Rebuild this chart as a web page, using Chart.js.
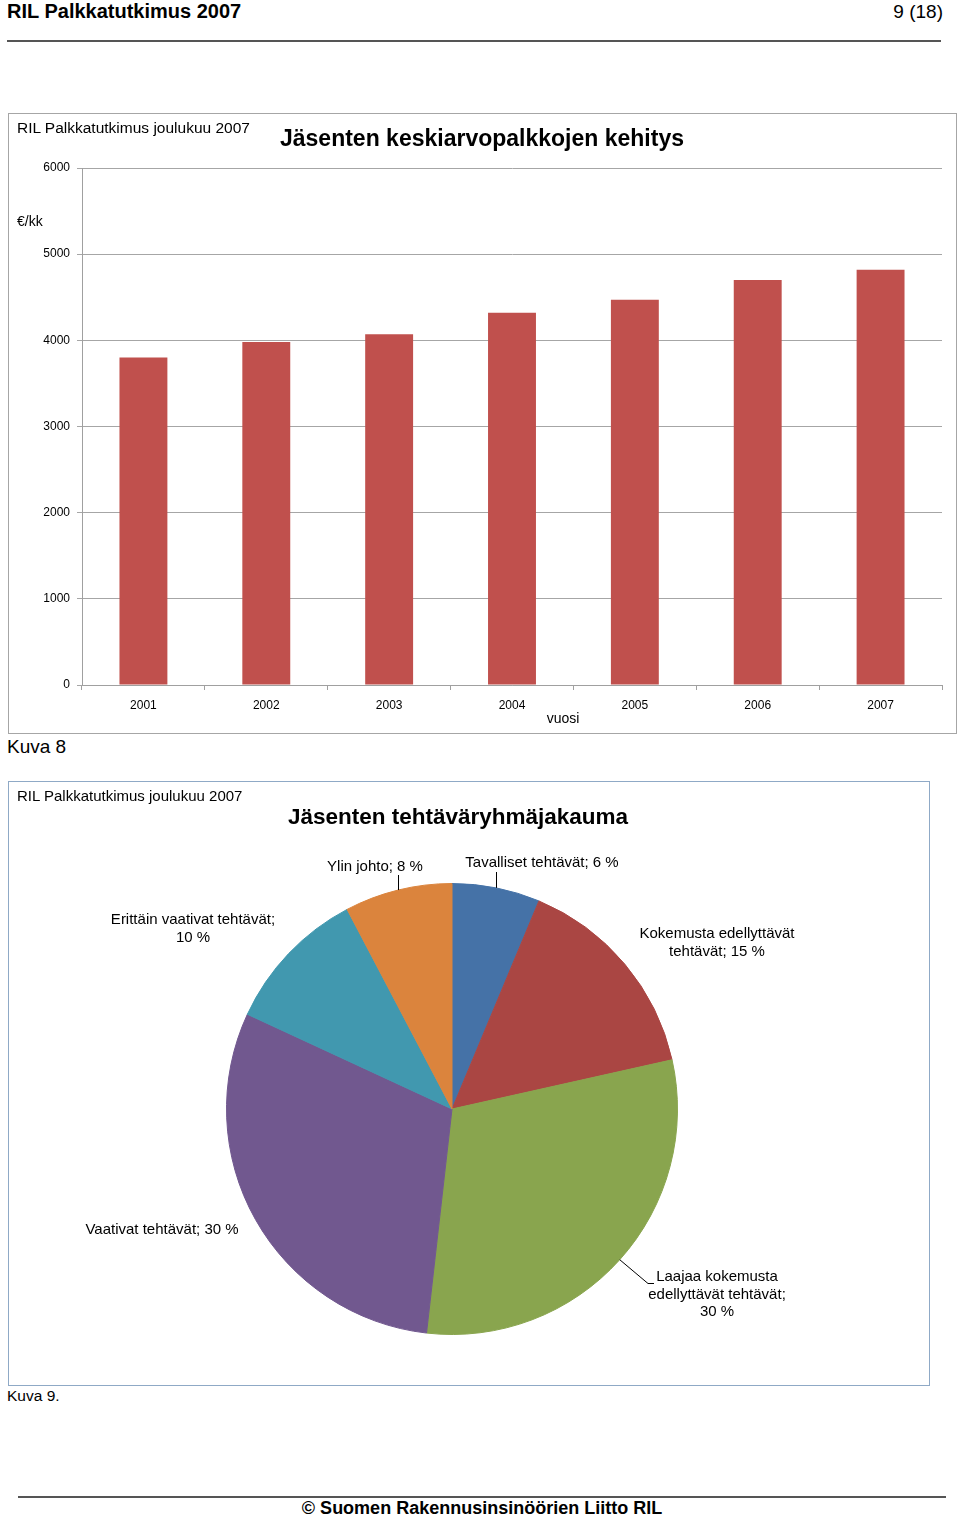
<!DOCTYPE html>
<html><head><meta charset="utf-8">
<script src="https://cdn.jsdelivr.net/npm/chart.js@4.4.0/dist/chart.umd.min.js"></script>
<style>
body{margin:0;background:#fff;}
#page{position:relative;width:960px;height:1517px;font-family:"Liberation Sans",Arial,sans-serif;color:#000;overflow:hidden;}
.t{position:absolute;white-space:nowrap;line-height:1;}
.l{transform:translateY(-50%);}
.c{transform:translate(-50%,-50%);}
.r{transform:translate(-100%,-50%);}
.box{position:absolute;box-sizing:border-box;}
canvas{position:absolute;}
</style></head><body>
<div id="page">
  <div class="t l" style="left:7px;top:11px;font-size:20px;font-weight:bold;">RIL Palkkatutkimus 2007</div>
  <div class="t r" style="left:943px;top:11px;font-size:19px;">9 (18)</div>
  <div class="box" style="left:7px;top:40px;width:934px;height:2px;background:#555;"></div>

  <div class="box" style="left:8px;top:113px;width:949px;height:621px;border:1px solid #a6a6a6;"></div>
  <canvas id="bar" width="949" height="621" style="left:8px;top:113px;"></canvas>
  <div class="t l" style="left:17px;top:128px;font-size:15.5px;">RIL Palkkatutkimus joulukuu 2007</div>
  <div class="t c" style="left:482px;top:138px;font-size:23px;font-weight:bold;">Jäsenten keskiarvopalkkojen kehitys</div>
  <div class="t l" style="left:17px;top:221px;font-size:14px;">€/kk</div>
  <div class="t c" style="left:563px;top:718px;font-size:14px;">vuosi</div>
  <div class="t l" style="left:7px;top:746px;font-size:19px;">Kuva 8</div>

  <div class="box" style="left:8px;top:781px;width:922px;height:605px;border:1px solid #8fa9c6;"></div>
  <canvas id="pie" width="922" height="605" style="left:8px;top:781px;"></canvas>
  <div class="t l" style="left:17px;top:795px;font-size:15px;">RIL Palkkatutkimus joulukuu 2007</div>
  <div class="t c" style="left:458px;top:817px;font-size:22.5px;font-weight:bold;">Jäsenten tehtäväryhmäjakauma</div>
  <div class="t l" style="left:7px;top:1396px;font-size:15.5px;">Kuva 9.</div>

  <div class="box" style="left:18px;top:1496px;width:928px;height:2px;background:#555;"></div>
  <div class="t c" style="left:482px;top:1508px;font-size:18px;font-weight:bold;">© Suomen Rakennusinsinöörien Liitto RIL</div>
</div>
<script>
// ---- Data ----
const years = ['2001','2002','2003','2004','2005','2006','2007'];
const salaries = [3800, 3980, 4070, 4320, 4470, 4700, 4820];
const yTicks = [0, 1000, 2000, 3000, 4000, 5000, 6000];

const groups = ['Tavalliset tehtävät', 'Kokemusta edellyttävät tehtävät', 'Laajaa kokemusta edellyttävät tehtävät', 'Vaativat tehtävät', 'Erittäin vaativat tehtävät', 'Ylin johto'];
const shares = [6.3, 15.2, 30.3, 30.1, 10.4, 7.7];
const pieColors = ['#4572a7', '#aa4643', '#89a54e', '#71588f', '#4198af', '#db843d'];

const FONT = 'Liberation Sans';

// ---- Bar chart ----
new Chart(document.getElementById('bar'), {
  type: 'bar',
  data: { labels: years, datasets: [{ data: salaries, backgroundColor: '#c0504d', barPercentage: 0.39, categoryPercentage: 1 }] },
  options: {
    responsive: false, animation: false, devicePixelRatio: 1,
    layout: { padding: { left: 0, right: 15, top: 55, bottom: 0 } },
    plugins: { legend: { display: false }, tooltip: { enabled: false } },
    scales: {
      x: {
        grid: { offset: true, drawOnChartArea: false, tickLength: 5, color: '#a0a0a0' },
        border: { color: '#a0a0a0' },
        ticks: { color: '#000', font: { size: 12, family: FONT }, padding: 8, maxRotation: 0 },
        afterFit: s => { s.height = 49; }
      },
      y: {
        min: yTicks[0], max: yTicks[yTicks.length - 1],
        afterBuildTicks: s => { s.ticks = yTicks.map(v => ({ value: v })); },
        ticks: { color: '#000', font: { size: 12, family: FONT }, padding: 7, callback: v => String(v) },
        grid: { color: '#a6a6a6', tickLength: 5 },
        border: { color: '#a0a0a0' },
        afterFit: s => { s.width = 74; }
      }
    }
  }
});

// ---- Pie chart ----
function wrap(ctx, text, maxW) {
  const words = text.split(' ');
  const lines = [];
  let cur = '';
  for (const w of words) {
    const test = cur ? cur + ' ' + w : w;
    if (cur && ctx.measureText(test).width > maxW) { lines.push(cur); cur = w; }
    else cur = test;
  }
  if (cur) lines.push(cur);
  return lines;
}
// label placement (canvas coords): centre x, first line y, wrap width, leader type
const labelLayout = [
  { x: 534, y: 82, w: 400, leader: 'up', ly: 91 },
  { x: 709, y: 153, w: 175 },
  { x: 709, y: 496, w: 160, leader: 'elbow', ex: 640, ey: 502 },
  { x: 154, y: 449, w: 400 },
  { x: 185, y: 139, w: 185 },
  { x: 367, y: 86, w: 400, leader: 'up', ly: 94 }
];
const pieLabels = {
  id: 'pieLabels',
  afterDatasetsDraw(chart) {
    const ctx = chart.ctx;
    const meta = chart.getDatasetMeta(0);
    ctx.save();
    ctx.font = '15px "' + FONT + '"';
    ctx.fillStyle = '#000';
    ctx.strokeStyle = '#000';
    ctx.lineWidth = 1;
    ctx.textAlign = 'center';
    ctx.textBaseline = 'middle';
    meta.data.forEach((arc, i) => {
      const L = labelLayout[i];
      const p = arc.getProps(['x', 'y', 'startAngle', 'endAngle', 'outerRadius'], true);
      const mid = (p.startAngle + p.endAngle) / 2;
      const mx = p.x + Math.cos(mid) * p.outerRadius;
      const my = p.y + Math.sin(mid) * p.outerRadius;
      if (L.leader === 'up') {
        ctx.beginPath(); ctx.moveTo(Math.round(mx) + 0.5, my); ctx.lineTo(Math.round(mx) + 0.5, L.ly); ctx.stroke();
      } else if (L.leader === 'elbow') {
        ctx.beginPath(); ctx.moveTo(mx, my); ctx.lineTo(L.ex, L.ey + 0.5); ctx.lineTo(L.ex + 6, L.ey + 0.5); ctx.stroke();
      }
      const text = groups[i] + '; ' + Math.round(shares[i]) + '\u00a0%';
      const lines = wrap(ctx, text, L.w);
      lines.forEach((ln, k) => ctx.fillText(ln, L.x, L.y + k * 17.5));
    });
    ctx.restore();
  }
};
new Chart(document.getElementById('pie'), {
  type: 'pie',
  data: { labels: groups, datasets: [{ data: shares, backgroundColor: pieColors, borderColor: pieColors, borderWidth: 1 }] },
  options: {
    responsive: false, animation: false, devicePixelRatio: 1,
    layout: { padding: { left: 218, right: 252, top: 102, bottom: 51 } },
    plugins: { legend: { display: false }, tooltip: { enabled: false } }
  },
  plugins: [pieLabels]
});
</script>
</body></html>
